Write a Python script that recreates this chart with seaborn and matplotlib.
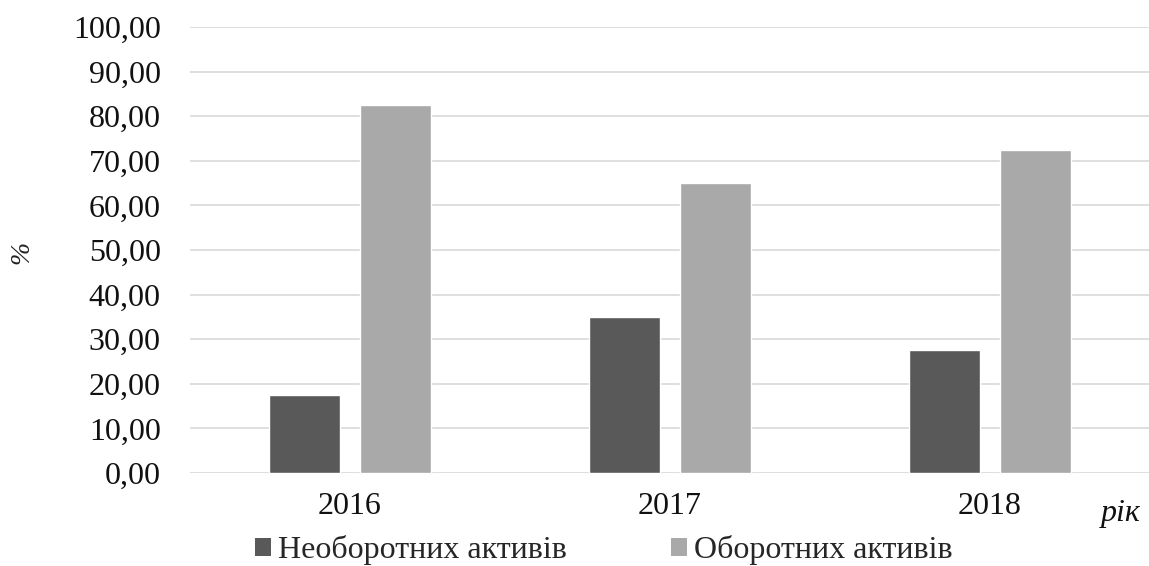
import matplotlib
matplotlib.use("Agg")
import matplotlib.pyplot as plt
import seaborn as sns
import pandas as pd
from matplotlib.ticker import FuncFormatter
from matplotlib.patches import Patch

years = ["2016", "2017", "2018"]
series_names = ["Необоротних активів", "Оборотних активів"]
non_current = [17.6, 35.0, 27.6]
current = [82.4, 65.0, 72.4]
colors = ["#595959", "#a9a9a9"]

df = pd.DataFrame({
    "year": years * 2,
    "series": [series_names[0]] * 3 + [series_names[1]] * 3,
    "value": non_current + current,
})

sns.set_theme(style="white")
plt.rcParams["font.family"] = ["Liberation Serif", "DejaVu Serif"]

fig = plt.figure(figsize=(11.49, 5.66), dpi=100)
ax = fig.add_axes([190 / 1149, 1 - 473 / 566, 960 / 1149, (473 - 27) / 566])

sns.barplot(data=df, x="year", y="value", hue="series", palette=colors,
            width=0.568, gap=0.218, ax=ax, legend=False, saturation=1)

ax.set_ylim(0, 100)
ax.set_xlim(-0.5, 2.5)
ax.set_yticks(range(0, 101, 10))
ax.yaxis.set_major_formatter(FuncFormatter(lambda v, p: f"{v:.2f}".replace(".", ",")))
ax.grid(axis="y", color="#d9d9d9", linewidth=1.2)
ax.set_axisbelow(True)
for s in ax.spines.values():
    s.set_visible(False)
ax.tick_params(axis="y", length=0, pad=21, labelsize=23, labelcolor="#111111")
ax.tick_params(axis="x", length=0, pad=14, labelsize=23, labelcolor="#111111")
ax.set_xlabel("")
ax.set_ylabel("")

fig.text(22 / 1149, 1 - 252 / 566, "%", rotation=90, fontsize=20, style="italic",
         ha="center", va="center", color="#222222")
fig.text(1121 / 1149, 1 - 513 / 566, "рік", fontsize=23, style="italic",
         ha="center", va="center", color="#111111")

handles = [Patch(facecolor=c, edgecolor="none") for c in colors]
fig.legend(handles, series_names, loc="center", bbox_to_anchor=(604 / 1149, 1 - 550 / 566),
           ncol=2, frameon=False, fontsize=23, handlelength=0.5, handleheight=0.5,
           handletextpad=0.22, columnspacing=3.25, borderaxespad=0)

fig.savefig("out.png", dpi=100)
